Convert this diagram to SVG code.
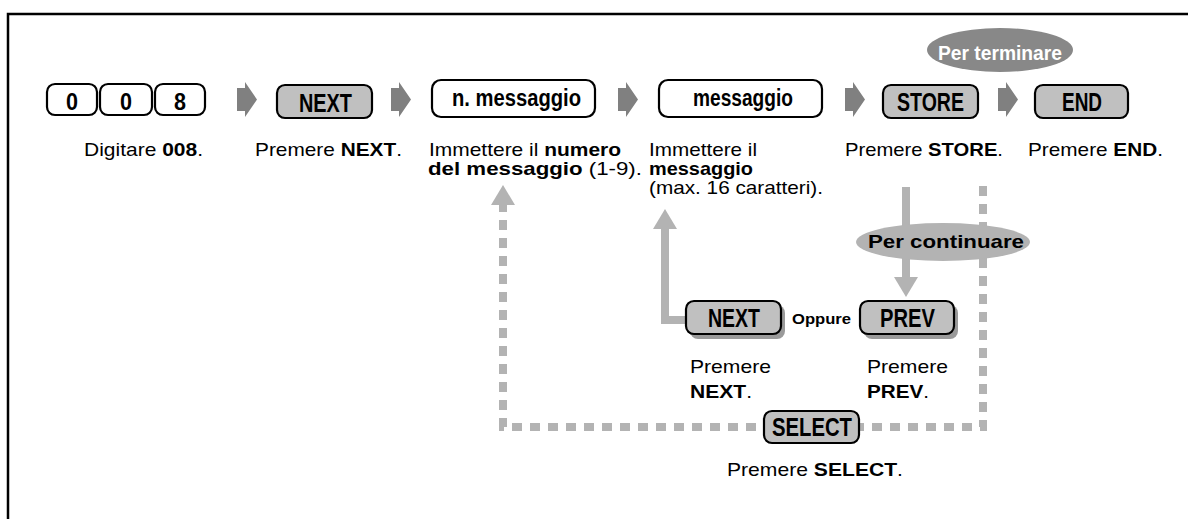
<svg xmlns="http://www.w3.org/2000/svg" width="1188" height="519" viewBox="0 0 1188 519">
<style>
.frame{fill:none;stroke:#000;stroke-width:2.5}
.wkey{fill:#fff;stroke:#000;stroke-width:2.2}
.gkey{fill:#c0c0c0;stroke:#000;stroke-width:2.2}
.shadow{fill:#9a9a9a}
.klbl{font-family:"Liberation Sans",Arial,sans-serif;font-weight:bold;fill:#000}
.mid{text-anchor:middle}
.desc{font-family:"Liberation Sans",Arial,sans-serif;font-size:19px;fill:#000}
.b{font-weight:bold}
.step{fill:#808080}
.solid{fill:none;stroke:#b3b3b3;stroke-width:8}
.dash{fill:none;stroke:#b3b3b3;stroke-width:8;stroke-dasharray:10 8}
.head{fill:#b3b3b3}
</style>
<defs>
<path id="stepArrow" d="M0,6 L8,6 L8,0 L20,17.5 L8,35 L8,29 L0,29 Z"/>
</defs>
<path class="frame" d="M8,519 L8,14 L1188,14"/>

<g id="connectors">
<use href="#stepArrow" class="step" x="237" y="82"/>
<use href="#stepArrow" class="step" x="391" y="82"/>
<use href="#stepArrow" class="step" x="618" y="82"/>
<use href="#stepArrow" class="step" x="845" y="82"/>
<use href="#stepArrow" class="step" x="998" y="82"/>
<path class="solid" d="M906,187 L906,280"/>
<polygon class="head" points="894,277 918,277 906,297"/>
<path class="solid" d="M686,320 L665,320 L665,226"/>
<polygon class="head" points="653,229 677,229 665,209"/>
<path class="dash" d="M983,186 L983,427 L503,427 L503,205"/>
<polygon class="head" points="491,205 515,205 503,185"/>
</g>

<g id="key-0a"><rect class="wkey" x="47" y="84" width="50" height="31" rx="8"/><text class="klbl mid" x="72" y="110" font-size="24" textLength="12" lengthAdjust="spacingAndGlyphs">0</text></g>
<g id="key-0b"><rect class="wkey" x="100" y="84" width="52" height="31" rx="8"/><text class="klbl mid" x="126" y="110" font-size="24" textLength="12" lengthAdjust="spacingAndGlyphs">0</text></g>
<g id="key-8"><rect class="wkey" x="155" y="84" width="50" height="31" rx="8"/><text class="klbl mid" x="180" y="110" font-size="24" textLength="12" lengthAdjust="spacingAndGlyphs">8</text></g>
<g id="desc-008"><text class="desc" x="84" y="156" textLength="119" lengthAdjust="spacingAndGlyphs">Digitare <tspan class="b">008</tspan>.</text></g>

<g id="key-next"><rect class="gkey" x="277" y="85" width="95" height="33" rx="8"/><text class="klbl" x="299" y="112" font-size="25" textLength="53" lengthAdjust="spacingAndGlyphs">NEXT</text></g>
<g id="desc-next"><text class="desc" x="255" y="156" textLength="147" lengthAdjust="spacingAndGlyphs">Premere <tspan class="b">NEXT</tspan>.</text></g>

<g id="box-nmsg"><rect class="wkey" x="432" y="80" width="163" height="37" rx="9"/><text class="klbl" x="452" y="106" font-size="23" textLength="129" lengthAdjust="spacingAndGlyphs">n. messaggio</text></g>
<g id="desc-nmsg"><text class="desc" x="429" y="156" textLength="192" lengthAdjust="spacingAndGlyphs">Immettere il <tspan class="b">numero</tspan></text><text class="desc" x="428" y="175" textLength="214" lengthAdjust="spacingAndGlyphs"><tspan class="b">del messaggio</tspan> (1-9).</text></g>

<g id="box-msg"><rect class="wkey" x="659" y="80" width="163" height="37" rx="9"/><text class="klbl" x="693" y="106" font-size="23" textLength="100" lengthAdjust="spacingAndGlyphs">messaggio</text></g>
<g id="desc-msg"><text class="desc" x="649" y="156" textLength="108" lengthAdjust="spacingAndGlyphs">Immettere il</text><text class="desc b" x="649" y="175" textLength="104" lengthAdjust="spacingAndGlyphs">messaggio</text><text class="desc" x="649" y="194" textLength="174" lengthAdjust="spacingAndGlyphs">(max. 16 caratteri).</text></g>

<g id="key-store"><rect class="gkey" x="883" y="85" width="95" height="33" rx="8"/><text class="klbl" x="897" y="111" font-size="25" textLength="67" lengthAdjust="spacingAndGlyphs">STORE</text></g>
<g id="desc-store"><text class="desc" x="845" y="156" textLength="158" lengthAdjust="spacingAndGlyphs">Premere <tspan class="b">STORE</tspan>.</text></g>

<g id="key-end"><rect class="gkey" x="1035" y="85" width="93" height="33" rx="8"/><text class="klbl" x="1062" y="111" font-size="25" textLength="40" lengthAdjust="spacingAndGlyphs">END</text></g>
<g id="desc-end"><text class="desc" x="1028" y="156" textLength="135" lengthAdjust="spacingAndGlyphs">Premere <tspan class="b">END</tspan>.</text></g>

<g id="per-terminare"><ellipse cx="1000" cy="50" rx="73" ry="22" fill="#888"/><text class="klbl" x="938" y="60" font-size="20" style="fill:#fff" textLength="124" lengthAdjust="spacingAndGlyphs">Per terminare</text></g>

<g id="per-continuare"><ellipse cx="943" cy="242" rx="87" ry="19" fill="#b3b3b3"/><text class="klbl" x="868" y="248" font-size="19" textLength="156" lengthAdjust="spacingAndGlyphs">Per continuare</text></g>

<g id="key-next2"><rect class="shadow" x="690" y="305" width="95" height="34" rx="8"/><rect class="gkey" x="686" y="301" width="95" height="33" rx="8"/><text class="klbl" x="708" y="327" font-size="25" textLength="52" lengthAdjust="spacingAndGlyphs">NEXT</text></g>
<g id="oppure"><text class="klbl" x="792" y="324" font-size="15" textLength="59" lengthAdjust="spacingAndGlyphs">Oppure</text></g>
<g id="key-prev"><rect class="shadow" x="864" y="305" width="94" height="34" rx="8"/><rect class="gkey" x="860" y="301" width="94" height="33" rx="8"/><text class="klbl" x="880" y="327" font-size="25" textLength="55" lengthAdjust="spacingAndGlyphs">PREV</text></g>
<g id="desc-next2"><text class="desc" x="690" y="373" textLength="81" lengthAdjust="spacingAndGlyphs">Premere</text><text class="desc b" x="690" y="398" textLength="62" lengthAdjust="spacingAndGlyphs">NEXT<tspan font-weight="normal">.</tspan></text></g>
<g id="desc-prev"><text class="desc" x="867" y="373" textLength="81" lengthAdjust="spacingAndGlyphs">Premere</text><text class="desc b" x="867" y="398" textLength="62" lengthAdjust="spacingAndGlyphs">PREV<tspan font-weight="normal">.</tspan></text></g>

<g id="key-select"><rect class="gkey" x="764" y="411" width="95" height="32" rx="8"/><text class="klbl" x="772" y="436" font-size="25" textLength="80" lengthAdjust="spacingAndGlyphs">SELECT</text></g>
<g id="desc-select"><text class="desc" x="727" y="476" textLength="176" lengthAdjust="spacingAndGlyphs">Premere <tspan class="b">SELECT</tspan>.</text></g>
</svg>
